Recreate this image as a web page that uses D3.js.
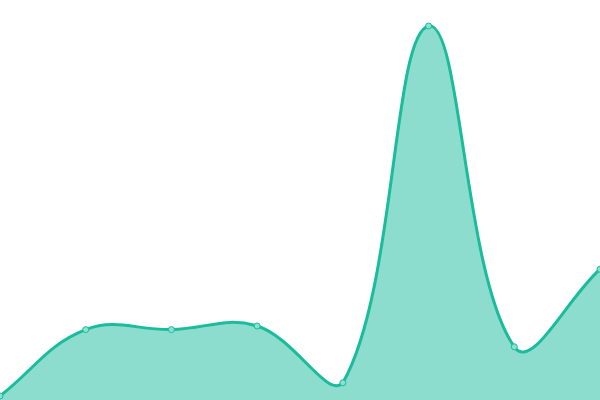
<!DOCTYPE html>
<html><head><meta charset="utf-8">
<script src="https://cdn.jsdelivr.net/npm/d3@7"></script>
<style>html,body{margin:0;padding:0;background:#fff;overflow:hidden}</style>
</head><body>
<svg id="chart" width="600" height="400"></svg>
<script>
const categories = [0, 1, 2, 3, 4, 5, 6, 7];
const values = [1, 17.6, 17.6, 18.5, 4.3, 93.5, 13.3, 32.7];

const W = 600, H = 400;
const svg = d3.select("#chart");
const x = d3.scaleLinear().domain([0, categories.length - 1]).range([0, W]);
const y = d3.scaleLinear().domain([0, 100]).range([H, 0]);
const data = categories.map((c, i) => ({c, v: values[i]}));

// Distance-weighted spline (tension 0.4) with control points capped to the plot area
function splineCurve(tension, area) {
  return function(context) {
    return {
      areaStart() { this._line = 0; },
      areaEnd() { this._line = NaN; },
      lineStart() { this._pts = []; },
      point(px, py) { this._pts.push([+px, +py]); },
      lineEnd() {
        const p = this._pts, n = p.length;
        if (n) {
          if (this._line) context.lineTo(p[0][0], p[0][1]); else context.moveTo(p[0][0], p[0][1]);
          const cps = p.map((cur, i) => {
            const prev = p[i - 1] || cur, next = p[i + 1] || cur;
            const d01 = Math.hypot(cur[0] - prev[0], cur[1] - prev[1]);
            const d12 = Math.hypot(next[0] - cur[0], next[1] - cur[1]);
            let s01 = d01 / (d01 + d12), s12 = d12 / (d01 + d12);
            if (!isFinite(s01)) s01 = 0; if (!isFinite(s12)) s12 = 0;
            const fa = tension * s01, fb = tension * s12;
            const cap = q => [Math.max(area[0], Math.min(area[2], q[0])), Math.max(area[1], Math.min(area[3], q[1]))];
            let a = [cur[0] - fa * (next[0] - prev[0]), cur[1] - fa * (next[1] - prev[1])];
            let b = [cur[0] + fb * (next[0] - prev[0]), cur[1] + fb * (next[1] - prev[1])];
            const inside = cur[0] >= area[0] && cur[0] <= area[2] && cur[1] >= area[1] && cur[1] <= area[3];
            if (inside) { a = cap(a); b = cap(b); }
            return {a, b};
          });
          for (let i = 1; i < n; i++) {
            const c1 = cps[i - 1].b, c2 = cps[i].a;
            context.bezierCurveTo(c1[0], c1[1], c2[0], c2[1], p[i][0], p[i][1]);
          }
        }
        if (this._line || (this._line !== 0 && n === 1)) context.closePath();
        this._line = 1 - this._line;
      }
    };
  };
}
const curve = splineCurve(0.4, [0, 0, W, H]);

svg.append("path").datum(data)
  .attr("fill", "#1abc9c").attr("fill-opacity", 0.5)
  .attr("d", d3.area().x(d => x(d.c)).y0(H).y1(d => y(d.v)).curve(curve));
svg.append("path").datum(data)
  .attr("fill", "none").attr("stroke", "#1abc9c").attr("stroke-width", 3)
  .attr("d", d3.line().x(d => x(d.c)).y(d => y(d.v)).curve(curve));
svg.selectAll("circle").data(data).join("circle")
  .attr("cx", d => x(d.c)).attr("cy", d => y(d.v)).attr("r", 3)
  .attr("fill", "#8ce0cf").attr("stroke", "#1abc9c").attr("stroke-width", 1);
</script>
</body></html>
